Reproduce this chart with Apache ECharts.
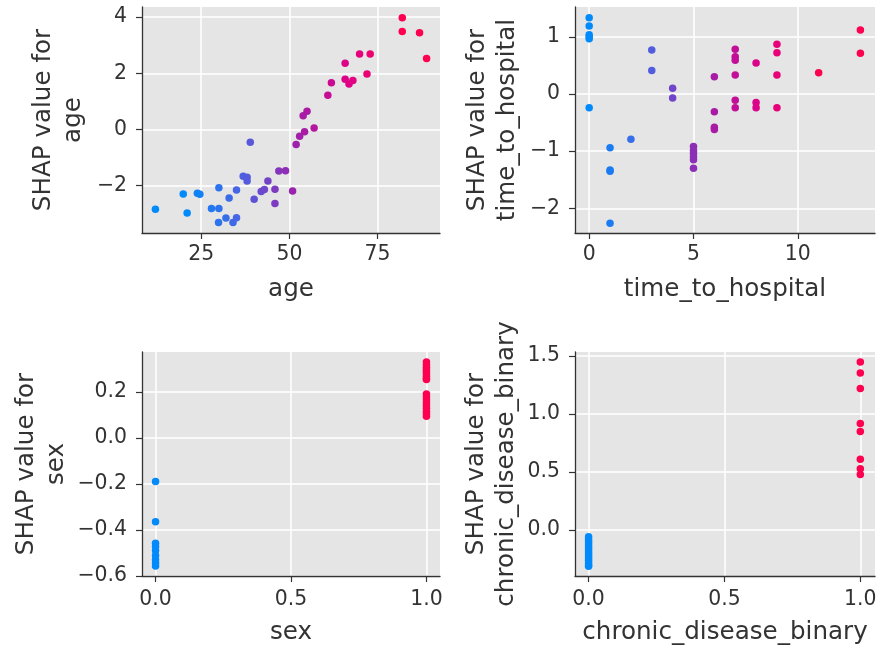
<!DOCTYPE html>
<html>
<head>
<meta charset="utf-8">
<script src="https://cdn.jsdelivr.net/npm/echarts@6/dist/echarts.min.js"></script>
<style>
html,body{margin:0;padding:0;background:#fff;}
#chart{width:881px;height:649px;}
</style>
</head>
<body>
<div id="chart"></div>
<script>
// ---- data (feature value, SHAP value) ----
const ageX = [12.0,19.9,21.0,23.9,24.6,27.9,30.0,30.0,29.9,32.0,34.0,35.0,32.9,35.0,36.9,38.0,38.0,38.9,40.0,42.0,42.9,43.9,45.9,45.9,47.0,48.9,50.9,51.9,52.9,54.3,53.9,55.0,57.0,60.9,61.9,65.8,65.8,66.9,68.0,69.9,72.0,72.9,82.0,82.0,86.9,88.9];
const ageShap = [-2.84,-2.30,-2.98,-2.27,-2.31,-2.82,-2.82,-2.08,-3.32,-3.16,-3.32,-3.15,-2.44,-2.16,-1.67,-1.70,-1.84,-0.46,-2.49,-2.21,-2.14,-1.84,-2.13,-2.64,-1.48,-1.47,-2.19,-0.54,-0.24,-0.085,0.49,0.65,0.05,1.22,1.66,2.36,1.79,1.62,1.74,2.69,1.97,2.69,3.975,3.49,3.44,2.53];

const timeX = [0,0,0,0,0,0, 1,1,1,1, 2, 3,3, 4,4, 5,5,5,5,5,5, 6,6,6,6, 7,7,7,7,7,7, 8,8,8, 9,9,9,9, 11, 13,13];
const timeShap = [1.33,1.19,1.035,1.0,0.965,-0.24, -0.94,-1.33,-1.35,-2.26, -0.79, 0.77,0.41, 0.10,-0.07, -0.92,-0.99,-1.04,-1.10,-1.15,-1.30, 0.30,-0.31,-0.58,-0.62, 0.78,0.65,0.59,0.33,-0.11,-0.24, 0.54,-0.15,-0.24, 0.87,0.72,0.33,-0.24, 0.37, 1.12,0.71];

const sexX = [0,0,0,0,0,0,0,0,0, 1,1,1,1,1,1,1,1,1, 1,1,1,1,1,1,1,1,1];
const sexShap = [-0.19,-0.365,-0.459,-0.473,-0.49,-0.512,-0.53,-0.545,-0.557, 0.329,0.318,0.307,0.297,0.288,0.278,0.268,0.258,0.253, 0.19,0.178,0.165,0.152,0.14,0.128,0.115,0.104,0.094];

const chronicX = [0,0,0,0,0,0,0,0,0,0,0,0,0,0, 1,1,1,1,1,1,1,1];
const chronicShap = [-0.057,-0.08,-0.10,-0.12,-0.14,-0.16,-0.18,-0.20,-0.22,-0.24,-0.26,-0.28,-0.30,-0.31, 1.449,1.354,1.22,0.92,0.85,0.61,0.53,0.48];

// ---- tick labels ----
const ageTicksX = [25, 50, 75];
const ageTicksY = [-2, 0, 2, 4];
const timeTicksX = [0, 5, 10];
const timeTicksY = [-2, -1, 0, 1];
const sexTicksX = [0, 0.5, 1];
const sexTicksY = [-0.6, -0.4, -0.2, 0, 0.2];
const chronicTicksX = [0, 0.5, 1];
const chronicTicksY = [0, 0.5, 1, 1.5];

const panels = [
  {name:'age', xs:ageX, ys:ageShap, tx:ageTicksX, ty:ageTicksY, dx:0, dy:0, xr:[8.2,92.7], yr:[-3.69,4.36], cmin:21, cmax:82,
   grid:{left:142, top:7, width:298, height:226}, yGap:53, xLm:12},
  {name:'time_to_hospital', xs:timeX, ys:timeShap, tx:timeTicksX, ty:timeTicksY, dx:0, dy:0, xr:[-0.68,13.7], yr:[-2.43,1.52], cmin:0, cmax:11,
   grid:{left:575, top:7, width:300, height:226}, yGap:52, xLm:12},
  {name:'sex', xs:sexX, ys:sexShap, tx:sexTicksX, ty:sexTicksY, dx:1, dy:1, xr:[-0.05,1.05], yr:[-0.601,0.373], cmin:0, cmax:1,
   grid:{left:142, top:352, width:298, height:225}, yGap:70, xLm:14},
  {name:'chronic_disease_binary', xs:chronicX, ys:chronicShap, tx:chronicTicksX, ty:chronicTicksY, dx:1, dy:1, xr:[-0.05,1.054], yr:[-0.395,1.535], cmin:0, cmax:1,
   grid:{left:575, top:352, width:300, height:225}, yGap:53, xLm:14}
];

const FONT = 'DejaVu Sans';
const TXT = '#333333';
const fmt = d => v => Number(v).toFixed(d).replace('-', '\u2212');

const grids = [], xAxes = [], yAxes = [], series = [], vms = [];
panels.forEach((p, i) => {
  grids.push(Object.assign({show:true, backgroundColor:'#e5e5e5', borderWidth:0, containLabel:false}, p.grid));
  const common = {
    type:'value', gridIndex:i,
    axisLine:{show:true, onZero:false, lineStyle:{color:TXT, width:1.3}},
    axisTick:{show:true, length:6, lineStyle:{color:TXT, width:1.2}},
    splitLine:{show:true, lineStyle:{color:'#ffffff', width:1.5}},
    nameLocation:'middle',
    nameTextStyle:{fontFamily:FONT, fontSize:24.6, color:TXT, lineHeight:30}
  };
  xAxes.push(Object.assign({}, common, {
    min:p.xr[0], max:p.xr[1], name:p.name, nameGap:42,
    axisTick:Object.assign({}, common.axisTick, {customValues:p.tx}),
    axisLabel:{customValues:p.tx, formatter:fmt(p.dx), fontFamily:FONT, fontSize:20.4, color:TXT, margin:p.xLm}
  }));
  yAxes.push(Object.assign({}, common, {
    min:p.yr[0], max:p.yr[1], name:'SHAP value for\n' + p.name, nameGap:p.yGap, nameRotate:90,
    axisTick:Object.assign({}, common.axisTick, {customValues:p.ty}),
    axisLabel:{customValues:p.ty, formatter:fmt(p.dy), fontFamily:FONT, fontSize:20.4, color:TXT, margin:15}
  }));
  series.push({
    type:'scatter', xAxisIndex:i, yAxisIndex:i, symbolSize:7.5,
    itemStyle:{opacity:1, borderWidth:0},
    data:p.xs.map((x, k) => [x, p.ys[k]])
  });
  vms.push({type:'continuous', show:false, seriesIndex:i, dimension:0, min:p.cmin, max:p.cmax,
    inRange:{color:['#008afb','#4b63e3','#9c22ac','#e00086','#ff0051']}});
});

const chart = echarts.init(document.getElementById('chart'), null, {renderer:'canvas'});
chart.setOption({
  animation:false,
  backgroundColor:'#ffffff',
  textStyle:{fontFamily:FONT},
  grid:grids, xAxis:xAxes, yAxis:yAxes, series:series, visualMap:vms
});
</script>
</body>
</html>
